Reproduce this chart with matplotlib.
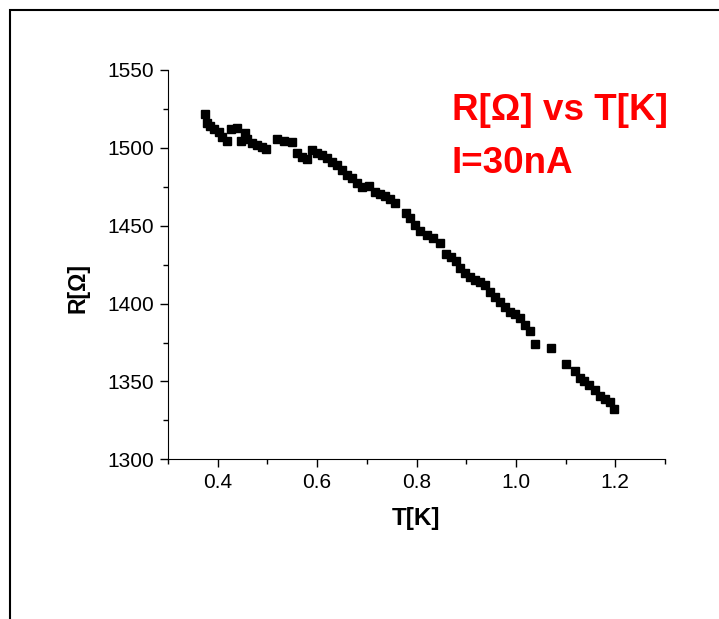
import matplotlib.pyplot as plt
from matplotlib.patches import Rectangle
from matplotlib.ticker import MultipleLocator

plt.rcParams['font.family'] = ['Liberation Sans', 'DejaVu Sans']

# temperatura (K) e resistencia (Ohm)
T = [0.375, 0.379, 0.385, 0.393, 0.402, 0.409, 0.419, 0.426, 0.438, 0.446,
     0.454, 0.458, 0.469, 0.479, 0.489, 0.498, 0.519, 0.533, 0.550, 0.560,
     0.570, 0.580, 0.590, 0.600, 0.610, 0.620, 0.630, 0.640, 0.650, 0.660,
     0.670, 0.680, 0.690, 0.704, 0.717, 0.727, 0.737, 0.747, 0.757, 0.779,
     0.787, 0.797, 0.807, 0.821, 0.834, 0.848, 0.860, 0.869, 0.880, 0.888,
     0.898, 0.908, 0.918, 0.928, 0.938, 0.948, 0.958, 0.968, 0.978, 0.988,
     0.998, 1.008, 1.018, 1.028, 1.038, 1.070, 1.100, 1.119, 1.128, 1.137,
     1.148, 1.159, 1.169, 1.179, 1.189, 1.198]
R = [1521.8, 1515.8, 1514.0, 1512.0, 1510.0, 1506.8, 1504.6, 1512.0, 1512.6, 1504.4,
     1509.8, 1506.0, 1503.3, 1501.9, 1500.4, 1499.0, 1506.0, 1504.6, 1504.0, 1497.0,
     1494.3, 1492.7, 1498.7, 1496.5, 1495.4, 1493.3, 1491.1, 1489.0, 1485.8, 1482.6,
     1480.5, 1477.3, 1475.0, 1475.5, 1471.9, 1470.4, 1469.0, 1467.0, 1464.8, 1458.4,
     1454.8, 1450.5, 1446.8, 1444.0, 1441.9, 1438.7, 1431.9, 1430.1, 1427.4, 1422.7,
     1419.5, 1417.3, 1415.2, 1413.7, 1411.9, 1407.3, 1404.4, 1400.8, 1398.0, 1394.8,
     1393.1, 1390.6, 1386.3, 1382.6, 1374.0, 1371.7, 1361.2, 1356.9, 1352.4, 1350.5,
     1347.7, 1344.5, 1340.7, 1338.5, 1337.0, 1332.1]

fig = plt.figure(figsize=(7.19, 6.19), dpi=100)

# moldura externa (cortada a direita e em baixo)
fig.patches.append(Rectangle((10 / 719, -0.1), 1.2, 1 - 10 / 619 + 0.1,
                             transform=fig.transFigure, fill=False,
                             edgecolor='black', linewidth=1.5))

ax = fig.add_axes([168 / 719, 1 - 459.3 / 619, (665 - 168) / 719, (459.3 - 70) / 619])
ax.plot(T, R, 's', color='black', markersize=5.8)

ax.set_xlim(0.3, 1.3)
ax.set_ylim(1300, 1550)
ax.xaxis.set_minor_locator(MultipleLocator(0.1))
ax.yaxis.set_major_locator(MultipleLocator(50))
ax.yaxis.set_minor_locator(MultipleLocator(25))
ax.set_xticks([0.4, 0.6, 0.8, 1.0, 1.2])
ax.set_xticklabels(['0.4', '0.6', '0.8', '1.0', '1.2'])

ax.spines['top'].set_visible(False)
ax.spines['right'].set_visible(False)
ax.tick_params(which='major', direction='out', length=6, width=1, labelsize=15, pad=4)
ax.tick_params(which='minor', direction='out', length=3.5, width=1)

ax.set_xlabel('T[K]', fontsize=17.5, fontweight='bold')
ax.set_ylabel('R[\u03a9]', fontsize=16.5, fontweight='bold')
ax.xaxis.set_label_coords(0.5, -0.122)
ax.yaxis.set_label_coords(-0.158, 0.44)

fig.text(452 / 719, 1 - 120 / 619, 'R[\u03a9] vs T[K]', color='#ff0000',
         fontsize=26.5, fontweight='bold', va='baseline', ha='left')
fig.text(452 / 719, 1 - 173 / 619, 'I=30nA', color='#ff0000',
         fontsize=26.5, fontweight='bold', va='baseline', ha='left')

fig.savefig('out.png', dpi=100)
